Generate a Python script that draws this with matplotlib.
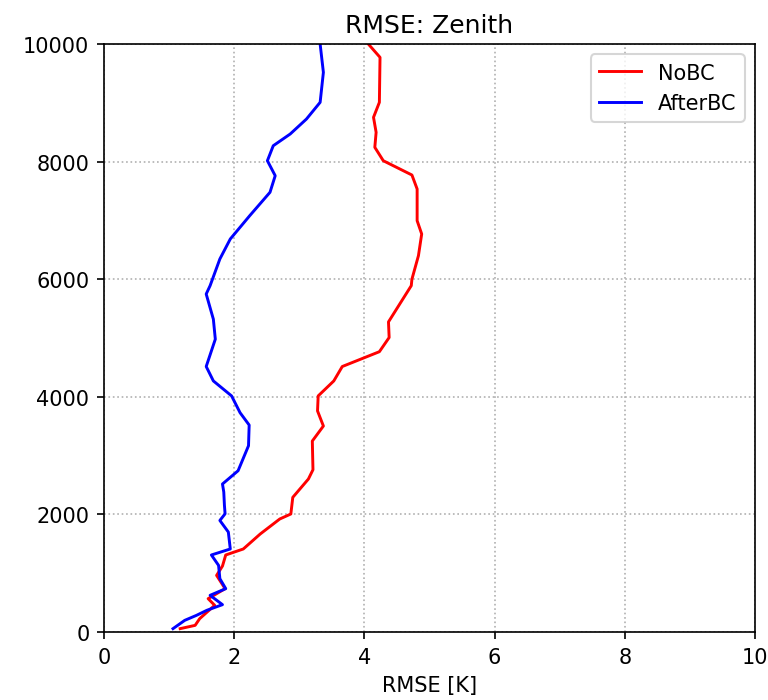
import matplotlib
matplotlib.use("Agg")
import matplotlib.pyplot as plt

# Heights (m) and RMSE values (K)
nobc_height = [57, 113, 227, 454, 567, 737, 963, 1122, 1310, 1412, 1667, 1922, 2007, 2290,
               2602, 2760, 3248, 3503, 3760, 4015, 4270, 4515, 4767, 5008, 5274, 5890,
               6000, 6400, 6769, 6995, 7534, 7772, 8015, 8243, 8498, 8753, 9008, 9773, 10000]
nobc_rmse = [1.17, 1.40, 1.47, 1.70, 1.60, 1.86, 1.73, 1.82, 1.87, 2.14, 2.40, 2.70, 2.87, 2.90,
             3.14, 3.21, 3.20, 3.37, 3.28, 3.29, 3.53, 3.66, 4.23, 4.38, 4.37, 4.72,
             4.73, 4.83, 4.88, 4.81, 4.81, 4.73, 4.29, 4.16, 4.18, 4.14, 4.23, 4.24, 4.06]

afterbc_height = [57, 198, 283, 369, 465, 624, 737, 907, 1133, 1310, 1412, 1700, 1897, 2010,
                  2154, 2380, 2517, 2743, 3168, 3520, 3730, 4015, 4270, 4515, 4980, 5320,
                  5748, 5890, 6344, 6684, 7082, 7478, 7760, 8015, 8270, 8469, 8724, 9008,
                  9518, 10000]
afterbc_rmse = [1.06, 1.24, 1.42, 1.58, 1.82, 1.63, 1.87, 1.78, 1.76, 1.65, 1.94, 1.91, 1.78, 1.86,
                1.85, 1.84, 1.82, 2.06, 2.22, 2.23, 2.09, 1.96, 1.68, 1.57, 1.71, 1.68,
                1.57, 1.63, 1.78, 1.94, 2.24, 2.55, 2.63, 2.51, 2.60, 2.86, 3.11, 3.32,
                3.37, 3.32]

fig = plt.figure(figsize=(768 / 150, 701 / 150), dpi=150)
ax = fig.add_axes([0.1354, 0.097, 0.8477, 0.8388])
ax.plot(nobc_rmse, nobc_height, color="red", lw=1.4, label="NoBC")
ax.plot(afterbc_rmse, afterbc_height, color="blue", lw=1.4, label="AfterBC")
ax.set_xlim(0, 10)
ax.set_ylim(0, 10000)
ax.set_xticks([0, 2, 4, 6, 8, 10])
ax.set_yticks([0, 2000, 4000, 6000, 8000, 10000])
ax.grid(True, linestyle=":", color="#b0b0b0")
ax.set_title("RMSE: Zenith")
ax.set_xlabel("RMSE [K]")
ax.legend(loc="upper right")
fig.savefig("out.png", dpi=150)
